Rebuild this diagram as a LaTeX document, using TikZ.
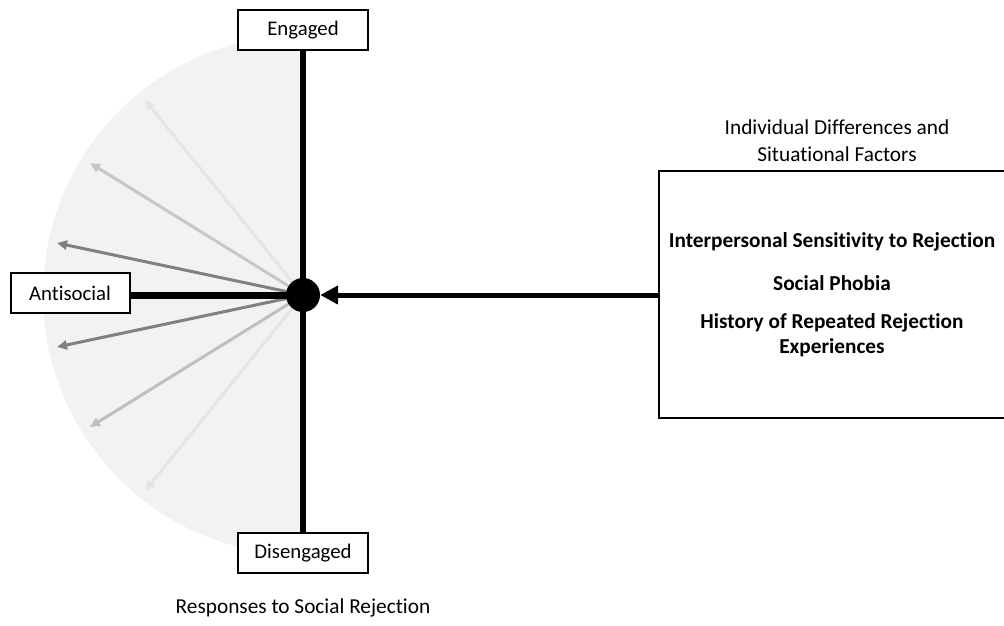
\documentclass[tikz,border=0pt]{standalone}
\usepackage{fontspec}
\setmainfont[Ligatures=NoCommon]{Carlito}
\usetikzlibrary{arrows.meta}
\begin{document}
\begin{tikzpicture}[x=1pt,y=1pt,
  lbl/.style={draw=black,line width=2pt,fill=white,minimum width=130pt,minimum height=40pt,inner sep=0pt,font=\fontsize{20.8}{24}\selectfont},
  ray/.style={line width=3pt,-{Triangle[length=10pt,width=9pt]}},
  thick line/.style={line width=6pt},
  txt/.style={font=\fontsize{21.3}{27}\selectfont,align=center},
  btxt/.style={font=\fontsize{21.3}{25}\bfseries\selectfont,align=center}]
\clip (0,0) rectangle (1004,-625);
\useasboundingbox (0,0) rectangle (1004,-625);
\fill[black!5] (303,-35) arc[start angle=90,end angle=270,radius=260] -- cycle;
\coordinate (c0) at (303,-295);
\coordinate (t1) at (145,-100);
\coordinate (t2) at (90,-163);
\coordinate (t3) at (57,-243);
\coordinate (t4) at (57,-347);
\coordinate (t5) at (90,-427);
\coordinate (t6) at (145,-491);
\draw[ray,color=black!10] (c0) -- (t1);
\draw[ray,color=black!22] (c0) -- (t2);
\draw[ray,color=black!50] (c0) -- (t3);
\draw[ray,color=black!50] (c0) -- (t4);
\draw[ray,color=black!25] (c0) -- (t5);
\draw[ray,color=black!10] (c0) -- (t6);
\node[lbl] (eng) at (303,-30) {Engaged};
\node[lbl] (dis) at (303,-553) {Disengaged};
\node[lbl,minimum width=119pt] (anti) at (70,-293) {Antisocial};
\draw[thick line] (eng.south) -- (dis.north);
\draw[line width=7pt] (anti.east |- c0) -- (c0);
\node[circle,fill=black,minimum size=34pt,inner sep=0pt] (dot) at (c0) {};
\draw[line width=2.5pt] (1010,-171) -- (659,-171) -- (659,-418) -- (1010,-418);
\coordinate (boxl) at (659,-295);
\draw[line width=5pt,-{Triangle[length=18pt,width=18pt]}] (boxl) -- (dot.east);
\node[txt] (idf) at (837,-141) {Individual Differences and\\Situational Factors};
\node[btxt] (isr) at (832,-242) {Interpersonal Sensitivity to Rejection};
\node[btxt] (sp) at (832,-283) {Social Phobia};
\node[btxt] (hist) at (832,-335.5) {History of Repeated Rejection\\Experiences};
\node[txt] (resp) at (303,-608) {Responses to Social Rejection};
\end{tikzpicture}
\end{document}
